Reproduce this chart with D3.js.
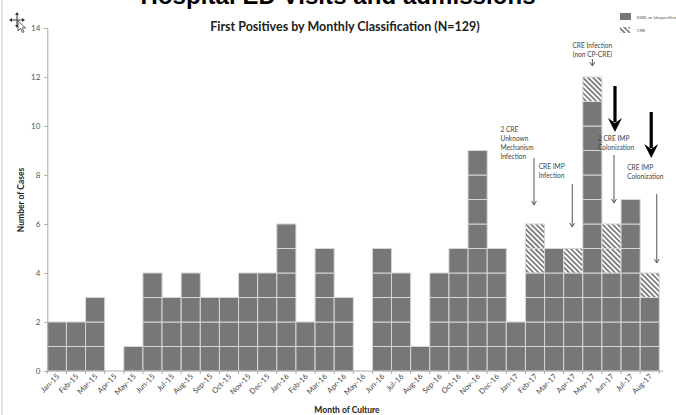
<!DOCTYPE html>
<html lang="en">
<head>
  <meta charset="UTF-8">
  <title>First Positives by Monthly Classification</title>
  <script src="https://d3js.org/d3.v7.min.js"></script>
  <style>
    body { margin: 0; background: #fff; }
    svg { display: block; font-family: Lato, "Open Sans", sans-serif; }
  </style>
</head>
<body>
  <div id="vis"></div>

  <script>
    const months = ["Jan-15", "Feb-15", "Mar-15", "Apr-15", "May-15", "Jun-15", "Jul-15", "Aug-15",
      "Sep-15", "Oct-15", "Nov-15", "Dec-15", "Jan-16", "Feb-16", "Mar-16", "Apr-16",
      "May-16", "Jun-16", "Jul-16", "Aug-16", "Sep-16", "Oct-16", "Nov-16", "Dec-16",
      "Jan-17", "Feb-17", "Mar-17", "Apr-17", "May-17", "Jun-17", "Jul-17", "Aug-17"];
    const esbl = [2, 2, 3, 0, 1, 4, 3, 4, 3, 3, 4, 4, 6, 2, 5, 3, 0, 5, 4, 1, 4, 5, 9, 5, 2, 4, 5, 4, 11, 4, 7, 3];
    const cre  = [0, 0, 0, 0, 0, 0, 0, 0, 0, 0, 0, 0, 0, 0, 0, 0, 0, 0, 0, 0, 0, 0, 0, 0, 0, 2, 0, 1, 1, 2, 0, 1];
    const yTicks = [0, 2, 4, 6, 8, 10, 12, 14];

    const notes = [
      { month: "May-17", lines: ["CRE Infection", "(non CP-CRE)"] },
      { month: "Feb-17", lines: ["2 CRE", "Unknown", "Mechanism", "Infection"] },
      { month: "Apr-17", lines: ["CRE IMP", "Infection"] },
      { month: "Jun-17", lines: ["2 CRE IMP", "Colonization"] },
      { month: "Aug-17", lines: ["CRE IMP", "Colonization"] }
    ];

    const W = 676, H = 415;
    const svg = d3.select("#vis").append("svg").attr("width", W).attr("height", H);

    const defs = svg.append("defs");
    const hatch = defs.append("pattern")
      .attr("id", "hatch")
      .attr("patternUnits", "userSpaceOnUse")
      .attr("width", 3.6).attr("height", 3.6)
      .attr("patternTransform", "rotate(-45)");
    hatch.append("rect").attr("width", 3.6).attr("height", 3.6).attr("fill", "#fff");
    hatch.append("rect").attr("width", 1.7).attr("height", 3.6).attr("fill", "#777");

    // slide edge
    svg.append("line").attr("x1", 2).attr("x2", 2).attr("y1", 0).attr("y2", H)
      .attr("stroke", "#c8c8c8").attr("stroke-width", 1);

    // slide title, cut by the top edge as in the screenshot
    svg.append("text")
      .attr("x", 338).attr("y", 4)
      .attr("text-anchor", "middle")
      .style("font-family", "'Liberation Sans', Arial, sans-serif")
      .style("font-weight", "bold").style("font-size", "24px")
      .attr("textLength", 395)
      .text("Hospital ED Visits and admissions");

    // move cursor icon
    const cur = svg.append("g").attr("transform", "translate(17,20)").attr("fill", "#333").attr("stroke", "#333");
    cur.append("path").attr("d", "M-6,0H6M0,-6V6").attr("stroke-width", 1).attr("fill", "none");
    cur.append("path").attr("d", "M-8,0l3,-2v4zM8,0l-3,-2v4zM0,-8l-2,3h4zM0,8l-2,-3h4z").attr("stroke", "none");
    cur.append("path").attr("d", "M1,1l0,10l2.5,-2.5l2,4l1.5,-0.8l-2,-3.8l3.5,0z")
      .attr("fill", "#fff").attr("stroke-width", 0.8);

    const x = d3.scaleBand().domain(months).range([47.3, 659.3]).padding(0);
    const y = d3.scaleLinear().domain([0, 14]).range([371, 28]);

    // chart title
    svg.append("text")
      .attr("x", 345).attr("y", 31)
      .attr("text-anchor", "middle")
      .style("font-weight", "bold").style("font-size", "12.5px")
      .attr("fill", "#222")
      .text("First Positives by Monthly Classification (N=129)");

    // one rectangle per case
    const cells = [];
    months.forEach((m, i) => {
      for (let k = 0; k < esbl[i]; k++) cells.push({ m, k, type: "esbl" });
      for (let k = esbl[i]; k < esbl[i] + cre[i]; k++) cells.push({ m, k, type: "cre" });
    });

    svg.append("g").selectAll("rect")
      .data(cells)
      .enter().append("rect")
      .attr("x", d => x(d.m))
      .attr("y", d => y(d.k + 1))
      .attr("width", x.bandwidth())
      .attr("height", d => y(d.k) - y(d.k + 1))
      .attr("fill", d => d.type === "esbl" ? "#777" : "url(#hatch)")
      .attr("stroke", "#d6d6d6")
      .attr("stroke-width", 1);

    // y axis
    const yAxis = svg.append("g")
      .attr("transform", `translate(${x.range()[0]},0)`)
      .call(d3.axisLeft(y).tickValues(yTicks).tickSize(3).tickPadding(4));
    yAxis.select(".domain").attr("stroke", "#aaa");
    yAxis.selectAll(".tick line").attr("stroke", "#aaa");
    yAxis.selectAll(".tick text").attr("fill", "#555").style("font-size", "8px").style("font-family", "Lato, sans-serif");

    // x axis
    const xg = svg.append("g");
    xg.append("line")
      .attr("x1", x.range()[0]).attr("x2", x.range()[1] + 4)
      .attr("y1", y(0)).attr("y2", y(0))
      .attr("stroke", "#aaa");
    xg.selectAll("line.tk")
      .data(months.concat(["end"]))
      .enter().append("line")
      .attr("class", "tk")
      .attr("x1", (d, i) => x.range()[0] + i * x.step())
      .attr("x2", (d, i) => x.range()[0] + i * x.step())
      .attr("y1", y(0)).attr("y2", y(0) + 3)
      .attr("stroke", "#aaa");
    xg.selectAll("text")
      .data(months)
      .enter().append("text")
      .attr("transform", d => `translate(${x(d) + x.bandwidth() / 2 + 3},${y(0) + 6}) rotate(-45)`)
      .attr("text-anchor", "end")
      .attr("fill", "#444")
      .style("font-size", "7.6px")
      .text(d => d);

    // axis titles
    svg.append("text")
      .attr("transform", "translate(24,200) rotate(-90)")
      .attr("text-anchor", "middle")
      .style("font-weight", "bold").style("font-size", "8.5px")
      .attr("fill", "#222")
      .text("Number of Cases");

    svg.append("text")
      .attr("x", 347).attr("y", 413)
      .attr("text-anchor", "middle")
      .style("font-weight", "bold").style("font-size", "8.5px")
      .attr("fill", "#222")
      .text("Month  of Culture");

    // legend
    const lg = svg.append("g");
    lg.append("rect").attr("x", 620).attr("y", 13).attr("width", 11).attr("height", 7).attr("fill", "#777");
    lg.append("rect").attr("x", 620).attr("y", 27).attr("width", 10).attr("height", 6).attr("fill", "url(#hatch)");
    lg.append("text").attr("x", 637).attr("y", 18.5).style("font-size", "4.5px").attr("fill", "#555").text("ESBL or Unspecified");
    lg.append("text").attr("x", 637).attr("y", 32).style("font-size", "4.5px").attr("fill", "#555").text("CRE");

    // annotations
    const cx = m => x(m) + x.bandwidth() / 2;
    const ag = svg.append("g").style("font-size", "6.6px").attr("fill", "#444");

    function thinArrow(xp, y1, y2) {
      ag.append("line").attr("x1", xp).attr("x2", xp).attr("y1", y1).attr("y2", y2)
        .attr("stroke", "#555").attr("stroke-width", 1);
      ag.append("path").attr("d", `M${xp - 2.5},${y2 - 4}L${xp},${y2}L${xp + 2.5},${y2 - 4}`)
        .attr("fill", "none").attr("stroke", "#555").attr("stroke-width", 1);
    }
    function boldArrow(xp, y1, y2) {
      ag.append("line").attr("x1", xp).attr("x2", xp).attr("y1", y1).attr("y2", y2 - 10)
        .attr("stroke", "#000").attr("stroke-width", 3.2);
      ag.append("path").attr("d", `M${xp - 7},${y2 - 14}L${xp},${y2}L${xp + 7},${y2 - 14}L${xp},${y2 - 9}Z`)
        .attr("fill", "#000");
    }
    function lines(note, xp, y0, anchor) {
      note.lines.forEach((t, i) => {
        ag.append("text").attr("x", xp).attr("y", y0 + i * 9)
          .attr("text-anchor", anchor).text(t);
      });
    }

    // CRE Infection (non CP-CRE) - May-17
    lines(notes[0], cx("May-17"), 48, "middle");
    thinArrow(cx("May-17"), 59, 66);

    // 2 CRE Unknown Mechanism Infection - Feb-17
    lines(notes[1], x("Feb-17") - 25, 132, "start");
    thinArrow(cx("Feb-17") - 1, 158, 205);

    // CRE IMP Infection - Apr-17
    lines(notes[2], x("Apr-17") - 25, 169, "start");
    thinArrow(cx("Apr-17") - 1, 184, 227);

    // 2 CRE IMP Colonization - Jun-17
    lines(notes[3], x("Jun-17") - 4, 141, "start");
    thinArrow(cx("Jun-17") + 2.5, 155, 203);
    boldArrow(cx("Jun-17") + 3.5, 86, 132);

    // CRE IMP Colonization - Aug-17
    lines(notes[4], x("Aug-17") - 13, 170, "start");
    thinArrow(cx("Aug-17") + 7, 194, 263);
    boldArrow(cx("Aug-17") + 1.5, 112, 158);
  </script>
</body>
</html>
